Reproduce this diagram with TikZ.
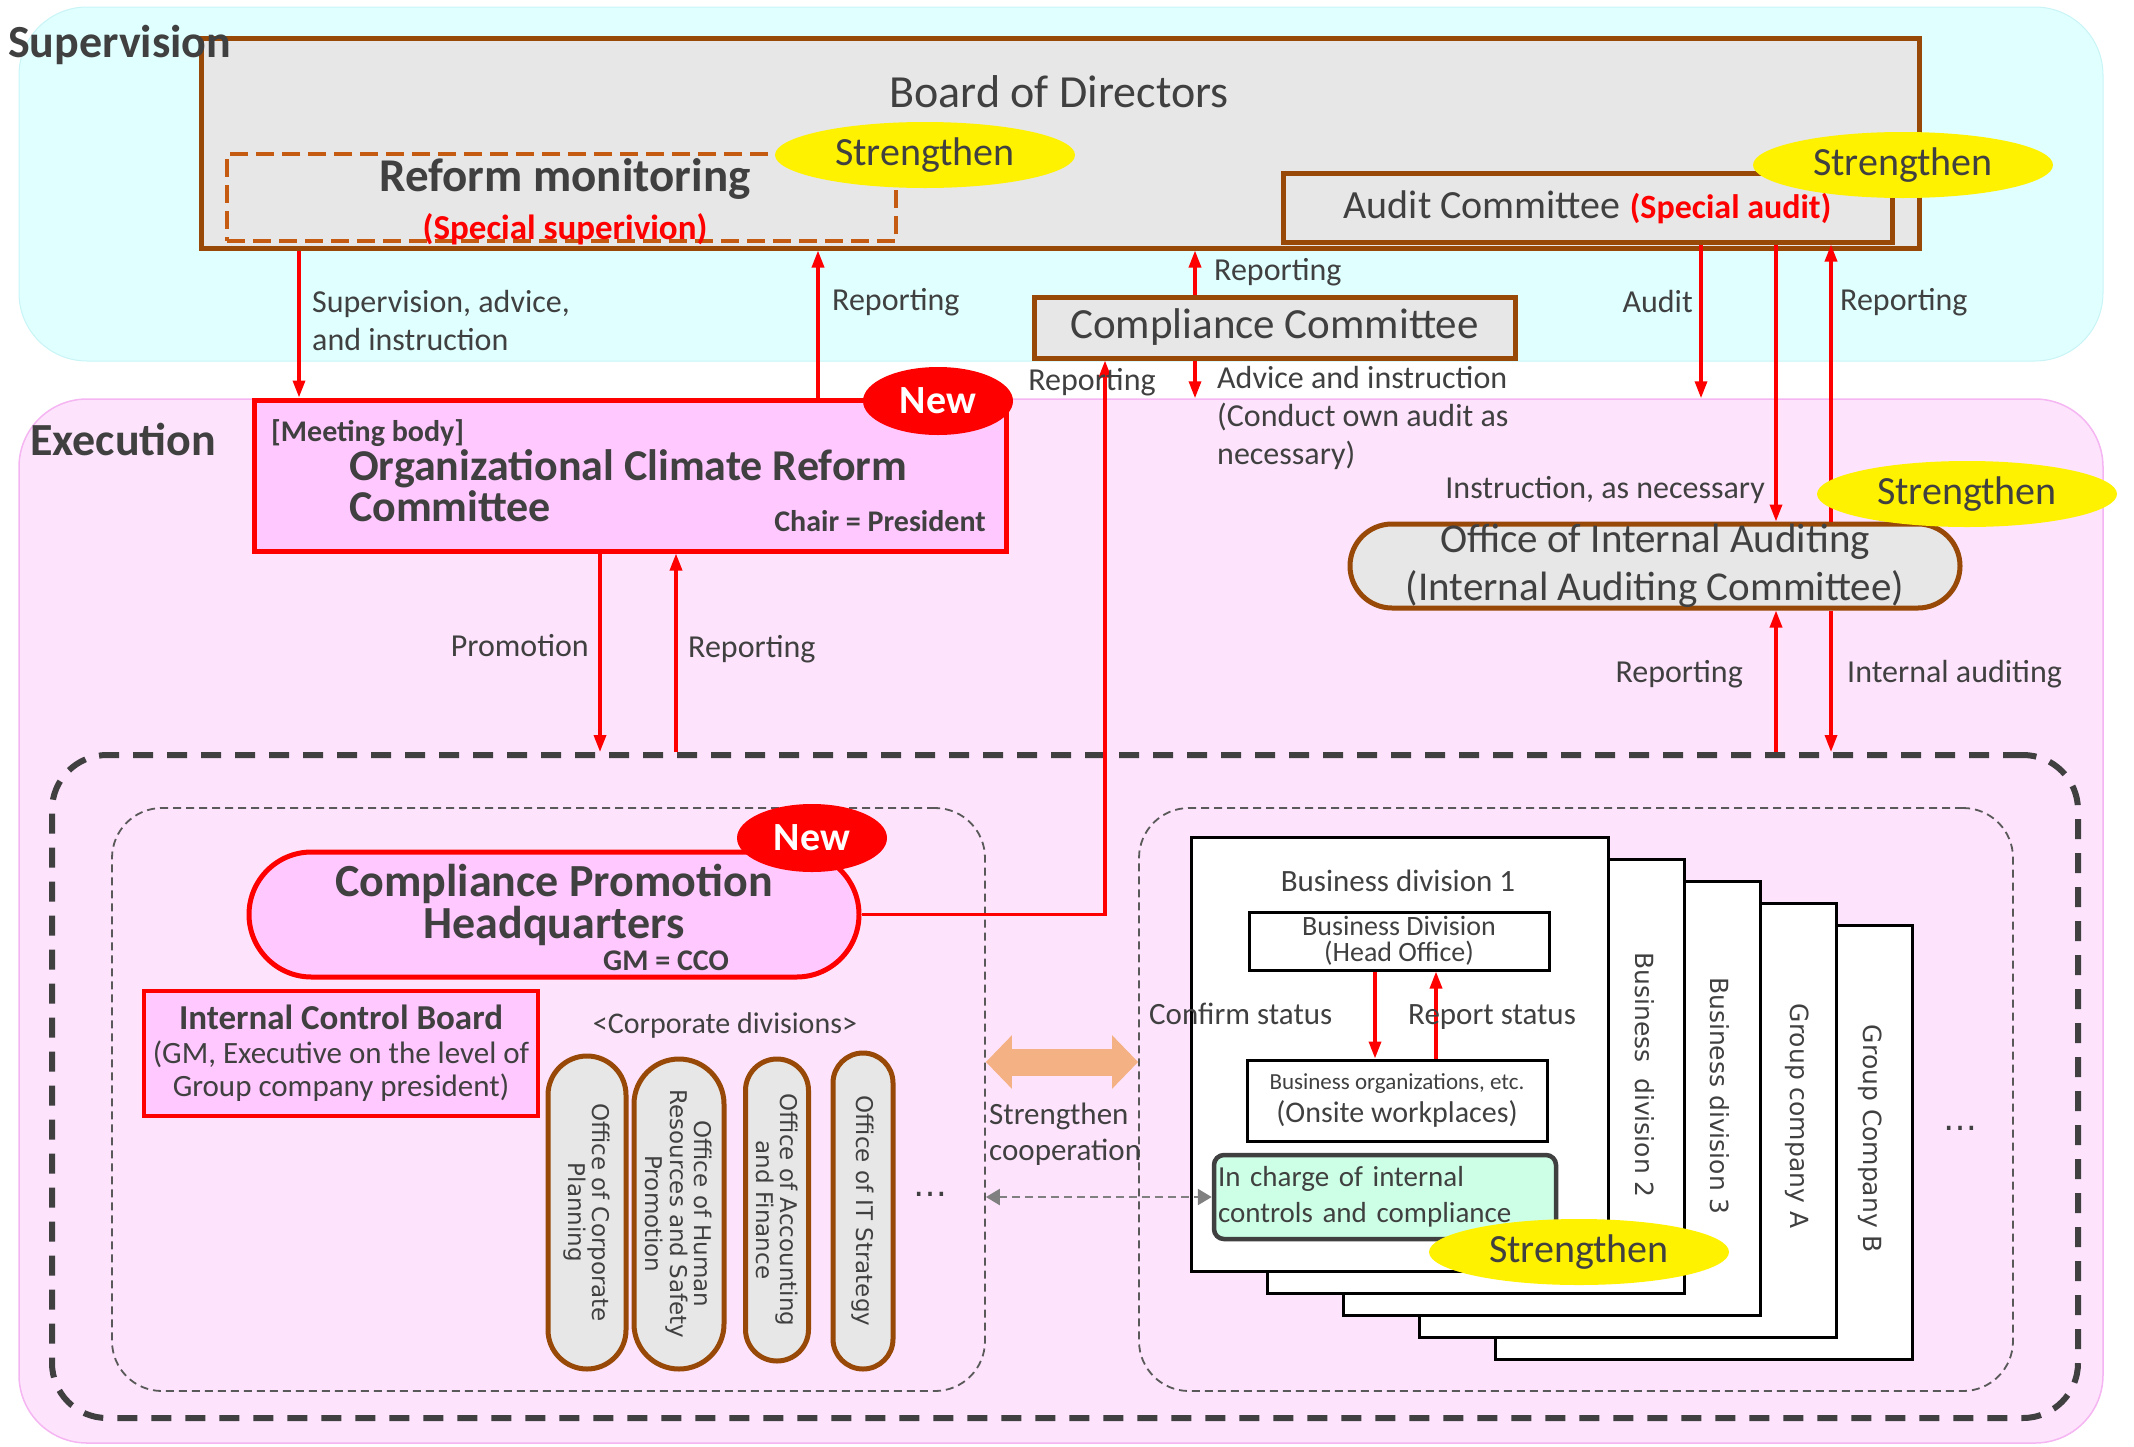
\documentclass[tikz,border=0pt]{standalone}
\usepackage{fontspec}
\setmainfont{Carlito}
\newfontfamily\vertfont{DejaVu Sans}
\usepackage{tikz}
\usetikzlibrary{shapes.geometric, shapes.misc, arrows.meta, positioning, calc}
\definecolor{txtgray}{HTML}{404040}
\definecolor{brownline}{HTML}{984807}
\definecolor{boxgray}{HTML}{E7E7E7}
\definecolor{supfill}{HTML}{E0FFFF}
\definecolor{supline}{HTML}{C8F4F6}
\definecolor{execfill}{HTML}{FDE4FC}
\definecolor{execline}{HTML}{F5B5F2}
\definecolor{pinkbox}{HTML}{FFC8FF}
\definecolor{mintbox}{HTML}{CCFFE5}
\definecolor{orangedash}{HTML}{C55A11}
\definecolor{peach}{HTML}{F4B183}
\definecolor{dashgray}{HTML}{595959}
\definecolor{arrowgray}{HTML}{808080}
\newcommand{\pxfont}[2]{\fontsize{#1}{#2}\selectfont}

\begin{document}
\begin{tikzpicture}[
    x=1pt, y=-1pt,
    lbl/.style={font=\pxfont{32}{38}, text=txtgray, inner sep=2pt, align=left},
    bandbox/.style={rectangle, rounded corners=68pt, inner sep=0pt},
    titletext/.style={font=\bfseries\pxfont{46}{52}, text=txtgray, anchor=west, inner sep=0pt},
    brownbox/.style={draw=brownline, fill=boxgray, line width=5pt, inner sep=0pt},
    redbox/.style={draw=red, fill=pinkbox, inner sep=0pt},
    grpbox/.style={draw=dashgray, line width=1.8pt, dash pattern=on 8pt off 5pt, rounded corners=50pt, inner sep=0pt},
    colbox/.style={rounded rectangle, rotate=-90, draw=brownline, fill=boxgray, line width=5pt, inner sep=0pt,
                   font=\vertfont\pxfont{23}{24.5}, text=txtgray, align=center},
    yellowtag/.style={ellipse, fill=yellow, minimum width=300pt, minimum height=66pt, inner sep=0pt,
                      font=\pxfont{40}{48}, text=txtgray},
    newtag/.style={ellipse, fill=red, minimum width=150pt, minimum height=68pt, inner sep=0pt,
                   font=\bfseries\pxfont{40}{48}, text=white},
    sheet/.style={draw=black, fill=white, line width=3pt, minimum width=417pt, minimum height=434pt,
                  anchor=north west, inner sep=0pt},
    sheettext/.style={rotate=-90, font=\vertfont\pxfont{25}{30}, text=txtgray},
    blackbox/.style={draw=black, fill=white, line width=3pt, inner sep=0pt, text=txtgray, align=center},
    redarrow/.style={-{Triangle[length=17pt,width=12pt]}, line width=3.4pt, red}
]
    \useasboundingbox (0,0) rectangle (2134,1446);

    \node[bandbox, fill=supfill, draw=supline, line width=1pt, minimum width=2084pt, minimum height=354pt] (supband) at (1061,184) {};
    \node[bandbox, fill=execfill, draw=execline, line width=1.5pt, minimum width=2084pt, minimum height=1044pt] (execband) at (1061,921) {};

    \node[brownbox, minimum width=1718pt, minimum height=210pt] (bod) at (1060,143) {};
    \node[titletext] (suptitle) at (8,45) {Supervision};
    \node[titletext] (exectitle) at (30,439) {Execution};
    \node[font=\pxfont{46}{52}, text=txtgray] (bodtext) at (1059,92) {Board of Directors};
    \node[draw=orangedash, line width=4pt, dash pattern=on 18pt off 8pt, minimum width=669pt, minimum height=87pt, inner sep=0pt] (reform) at (561.5,197.5) {};
    \node[align=center, text=txtgray, font=\bfseries\pxfont{47}{48}] (reformtext) at (565,202) {Reform monitoring\\{\color{red}\pxfont{35}{48}(Special superivion)}};
    \node[brownbox, minimum width=609pt, minimum height=69pt, font=\pxfont{40}{48}, text=txtgray] (audit) at (1587.5,207.5) {Audit Committee {\color{red}\bfseries\pxfont{34}{48}(Special audit)}};
    \node[brownbox, minimum width=481pt, minimum height=61pt, font=\pxfont{43}{48}, text=txtgray] (comp) at (1274.5,327.5) {Compliance Committee};

    \node[redbox, line width=5pt, minimum width=752pt, minimum height=151pt] (ocrc) at (630,475.5) {};
    \node[anchor=west, font=\bfseries\pxfont{30}{36}, text=txtgray, inner sep=0pt] (meeting) at (271,433) {[Meeting body]};
    \node[anchor=west, align=left, font=\bfseries\pxfont{44}{41}, text=txtgray, inner sep=0pt] (ocrctext) at (349,486) {Organizational Climate Reform\\Committee};
    \node[anchor=east, font=\bfseries\pxfont{30}{36}, text=txtgray, inner sep=0pt] (chair) at (986,521) {Chair = President};

    \node[rounded rectangle, draw=brownline, fill=boxgray, line width=5pt, inner sep=0pt, minimum width=610pt, minimum height=84pt,
          align=center, font=\pxfont{41}{48}, text=txtgray] (oia) at (1655,566) {Office of Internal Auditing\\(Internal Auditing Committee)};

    \node[draw=txtgray, line width=6pt, dash pattern=on 20pt off 14pt, rounded corners=55pt, minimum width=2026pt, minimum height=663pt, inner sep=0pt] (execgrp) at (1065,1086.5) {};
    \node[grpbox, minimum width=873pt, minimum height=583pt] (leftgrp) at (548.5,1099.5) {};
    \node[grpbox, minimum width=874pt, minimum height=583pt] (rightgrp) at (1576,1099.5) {};

    \node[rounded rectangle, draw=red, fill=pinkbox, line width=5pt, inner sep=0pt, minimum width=610pt, minimum height=125pt] (cph) at (554,914.5) {};
    \node[align=center, font=\bfseries\pxfont{46}{42}, text=txtgray, inner sep=0pt] (cphtext) at (554,905) {Compliance Promotion\\Headquarters};
    \node[font=\bfseries\pxfont{30}{36}, text=txtgray, inner sep=0pt] (gmcco) at (666,961) {GM = CCO};
    \node[redbox, line width=3.5pt, minimum width=394pt, minimum height=125pt, align=center, font=\pxfont{31}{33.5}, text=txtgray] (icb) at (341,1053.5)
        {{\bfseries\pxfont{35}{33.5}Internal Control Board}\\(GM, Executive on the level of\\Group company president)};
    \node[font=\pxfont{30}{36}, text=txtgray] (corpdiv) at (725,1025) {<Corporate divisions>};
    \node[colbox, minimum width=313pt, minimum height=78pt] (colplan) at (587,1212.5) {Office of Corporate\\Planning};
    \node[colbox, minimum width=310pt, minimum height=90pt] (colhr) at (679,1214) {Office of Human\\Resources and Safety\\Promotion};
    \node[colbox, minimum width=302pt, minimum height=63pt] (colacc) at (777,1210) {Office of Accounting\\and Finance};
    \node[colbox, minimum width=316pt, minimum height=60pt] (colit) at (863,1211) {Office of IT Strategy};
    \node[font=\vertfont\pxfont{34}{40}, text=txtgray] (dotsleft) at (930,1194) {…};

    \node[sheet] (sheetB) at (1494,924) {};
    \node[sheet] (sheetA) at (1418,902) {};
    \node[sheet] (sheet3) at (1342,880) {};
    \node[sheet] (sheet2) at (1266,858) {};
    \node[sheet] (sheet1) at (1190,836) {};
    \node[sheettext] (txt2) at (1645,1075) {Business\ \ division 2};
    \node[sheettext] (txt3) at (1720,1096) {Business division 3};
    \node[sheettext] (txtA) at (1797,1116) {Group company A};
    \node[sheettext] (txtB) at (1870,1139) {Group Company B};
    \node[font=\vertfont\pxfont{34}{40}, text=txtgray] (dotsright) at (1960,1128) {…};

    \node[font=\pxfont{31}{36}, text=txtgray] (bd1) at (1398,881) {Business division 1};
    \node[blackbox, minimum width=300pt, minimum height=58pt, font=\pxfont{28}{26}] (bdho) at (1399,941) {Business Division\\(Head Office)};
    \node[blackbox, minimum width=300pt, minimum height=81pt, font=\pxfont{30}{33}] (bo) at (1397,1100.5)
        {{\pxfont{23}{33}Business organizations, etc.}\\(Onsite workplaces)};
    \node[draw=txtgray, line width=4.5pt, fill=mintbox, rounded corners=10pt, text width=334pt, inner xsep=4pt, inner ysep=0pt,
          minimum height=84pt, align=left, font=\pxfont{29}{36}, text=txtgray] (incharge) at (1385,1197) {In charge of internal\\controls and compliance};

    \coordinate (xsup) at (299,0);
    \coordinate (xrepbod) at (818,0);
    \coordinate (xcomp) at (1195,0);
    \coordinate (xcph) at (1105,0);
    \coordinate (xaud) at (1701,0);
    \coordinate (xins) at (1776,0);
    \coordinate (xrepaud) at (1831,0);
    \coordinate (xprom) at (600,0);
    \coordinate (xrepcom) at (676,0);
    \coordinate (xconf) at (1375,0);
    \coordinate (xrpt) at (1436,0);
    \coordinate (cooprow) at (0,1062);

    \draw[redarrow] (bod.south -| xsup) -- (ocrc.north -| xsup);
    \draw[redarrow] (ocrc.north -| xrepbod) -- (bod.south -| xrepbod);
    \draw[redarrow] (comp.north -| xcomp) -- (bod.south -| xcomp);
    \draw[redarrow] (comp.south -| xcomp) -- (execband.north -| xcomp);
    \draw[redarrow] (cph.east) -| (comp.south -| xcph);
    \draw[redarrow] (audit.south -| xaud) -- (execband.north -| xaud);
    \draw[redarrow] (audit.south -| xins) -- (oia.north -| xins);
    \draw[redarrow] (oia.north -| xrepaud) -- (audit.south -| xrepaud);
    \draw[redarrow] (execgrp.north -| xins) -- (oia.south -| xins);
    \draw[redarrow] (oia.south -| xrepaud) -- (execgrp.north -| xrepaud);
    \draw[redarrow] (ocrc.south -| xprom) -- (execgrp.north -| xprom);
    \draw[redarrow] (execgrp.north -| xrepcom) -- (ocrc.south -| xrepcom);
    \draw[redarrow] (bdho.south -| xconf) -- (bo.north -| xconf);
    \draw[redarrow] (bo.north -| xrpt) -- (bdho.south -| xrpt);
    \draw[peach, line width=27pt, {Triangle[length=26pt,width=52pt]}-{Triangle[length=26pt,width=52pt]}] (leftgrp.east |- cooprow) -- (rightgrp.west |- cooprow);
    \draw[arrowgray, line width=2.5pt, dash pattern=on 8pt off 5pt, {Triangle[length=14pt,width=16pt]}-{Triangle[length=14pt,width=16pt]}] (leftgrp.east |- incharge.west) -- (incharge.west);

    \node[lbl, anchor=west] (lsup) at (310,321) {Supervision, advice,\\and instruction};
    \node[lbl, anchor=west] (lrepbod) at (830,302) {Reporting};
    \node[lbl, anchor=west] (lrepcomp) at (1212,272) {Reporting};
    \node[lbl, anchor=west] (ladv) at (1215,418) {Advice and instruction\\(Conduct own audit as\\necessary)};
    \node[lbl] (lrepcph) at (1092,382) {Reporting};
    \node[lbl, anchor=east] (laud) at (1695,302) {Audit};
    \node[lbl, anchor=west] (lrepaud) at (1838,302) {Reporting};
    \node[lbl, anchor=east] (lins) at (1767,490) {Instruction, as necessary};
    \node[lbl, anchor=east] (lrepoia) at (1745,674) {Reporting};
    \node[lbl, anchor=west] (lintaud) at (1845,674) {Internal auditing};
    \node[lbl, anchor=east] (lprom) at (591,646) {Promotion};
    \node[lbl, anchor=west] (lrepocrc) at (686,649) {Reporting};
    \node[lbl, anchor=west, font=\pxfont{31}{36}] (lconf) at (1147,1014) {Confirm status};
    \node[lbl, anchor=west, font=\pxfont{31}{36}] (lrepst) at (1406,1017) {Report status};
    \node[lbl, anchor=west, font=\pxfont{31}{36}] (lcoop) at (987,1134) {Strengthen\\cooperation};

    \node[yellowtag] (tagreform) at (925,155) {Strengthen};
    \node[yellowtag] (tagaudit) at (1903,165) {Strengthen};
    \node[yellowtag] (tagoia) at (1967,494) {Strengthen};
    \node[yellowtag] (tagbiz) at (1579,1252) {Strengthen};
    \node[newtag] (newocrc) at (938,401) {New};
    \node[newtag] (newcph) at (812,838) {New};
\end{tikzpicture}
\end{document}
